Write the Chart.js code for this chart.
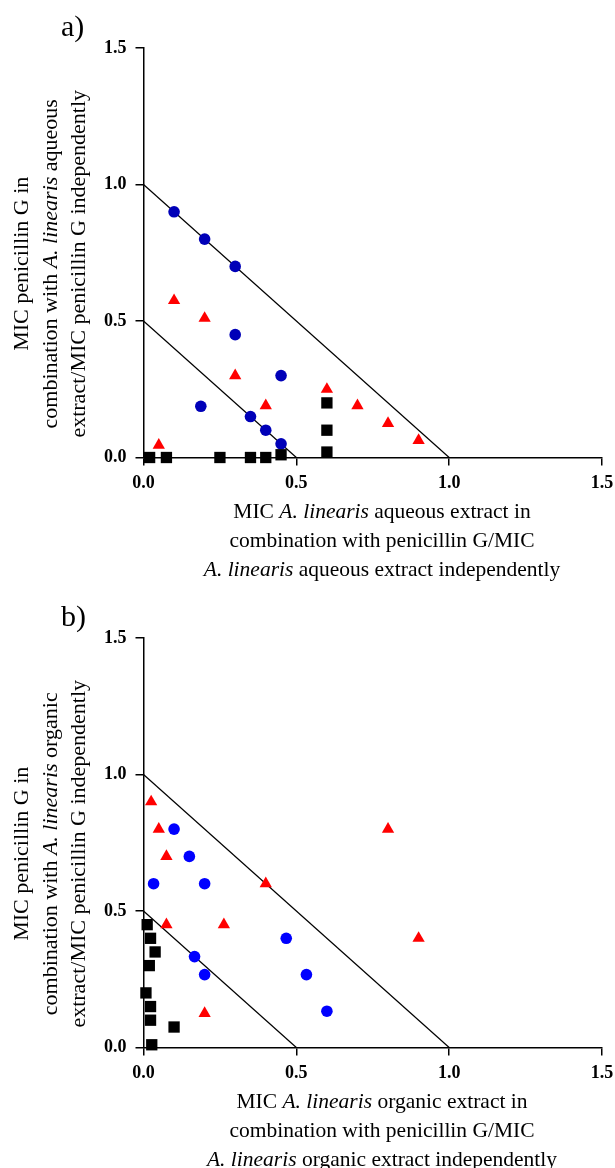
<!DOCTYPE html>
<html>
<head>
<meta charset="utf-8">
<script src="https://cdn.jsdelivr.net/npm/chart.js@4"></script>
<style>
  body { margin: 0; background: #fff; width: 615px; height: 1168px; overflow: hidden;
         font-family: 'Liberation Serif', 'Times New Roman', serif; color: #000; }
  .panel { position: absolute; left: 0; width: 615px; height: 590px; }
  .panel canvas { position: absolute; left: 0; top: 0; }
  .lbl { position: absolute; left: 61px; top: 6px; font-size: 30px; line-height: 40px; }
  .xt { position: absolute; left: 157px; top: 497px; width: 450px; text-align: center;
        font-size: 21.5px; line-height: 29px; white-space: nowrap; }
  .yt { position: absolute; left: -160px; top: 221px; width: 420px; text-align: center;
        font-size: 22px; line-height: 28.5px; white-space: nowrap; transform: rotate(-90deg); }
</style>
</head>
<body>

<div class="panel" style="top:0">
  <canvas id="chartA" width="615" height="500"></canvas>
  <div class="lbl">a)</div>
  <div class="yt">MIC penicillin G in<br>combination with <i>A. linearis</i> aqueous<br>extract/MIC penicillin G independently</div>
  <div class="xt">MIC <i>A. linearis</i> aqueous extract in<br>combination with penicillin G/MIC<br><i>A. linearis</i> aqueous extract independently</div>
</div>

<div class="panel" style="top:590px">
  <canvas id="chartB" width="615" height="500"></canvas>
  <div class="lbl">b)</div>
  <div class="yt">MIC penicillin G in<br>combination with <i>A. linearis</i> organic<br>extract/MIC penicillin G independently</div>
  <div class="xt">MIC <i>A. linearis</i> organic extract in<br>combination with penicillin G/MIC<br><i>A. linearis</i> organic extract independently</div>
</div>

<script>
// axis ticks
const tickValues = [0, 0.5, 1.0, 1.5];

// reference lines (additivity = 1, synergy = 0.5)
const lineOneX = [0, 1];
const lineOneY = [1, 0];
const lineHalfX = [0, 0.5];
const lineHalfY = [0.5, 0];

// a) aqueous extract
const aCircleX = [0.1, 0.2, 0.3, 0.3, 0.45, 0.1875, 0.35, 0.4, 0.45];
const aCircleY = [0.9, 0.8, 0.7, 0.45, 0.3, 0.1875, 0.15, 0.1, 0.05];
const aTriangleX = [0.05, 0.1, 0.2, 0.3, 0.4, 0.6, 0.7, 0.8, 0.9];
const aTriangleY = [0.045, 0.575, 0.51, 0.3, 0.19, 0.25, 0.19, 0.125, 0.0625];
const aSquareX = [0.02, 0.075, 0.25, 0.35, 0.4, 0.45, 0.6, 0.6, 0.6];
const aSquareY = [0, 0, 0, 0, 0, 0.01, 0.2, 0.1, 0.02];

// b) organic extract
const bCircleX = [0.1, 0.15, 0.033, 0.2, 0.467, 0.167, 0.2, 0.533, 0.6];
const bCircleY = [0.8, 0.7, 0.6, 0.6, 0.4, 0.333, 0.267, 0.267, 0.133];
const bTriangleX = [0.025, 0.05, 0.075, 0.4, 0.8, 0.075, 0.263, 0.9, 0.2];
const bTriangleY = [0.9, 0.8, 0.7, 0.6, 0.8, 0.45, 0.45, 0.4, 0.125];
const bSquareX = [0.012, 0.023, 0.038, 0.019, 0.008, 0.023, 0.023, 0.1, 0.027];
const bSquareY = [0.45, 0.4, 0.35, 0.3, 0.2, 0.15, 0.1, 0.075, 0.01];

function pts(xs, ys) {
  return xs.map((x, i) => ({ x: x, y: ys[i] }));
}

const tickFont = { family: 'Liberation Serif', size: 18, weight: 'bold' };

function makeChart(id, circles, triangles, squares, blue) {
  new Chart(document.getElementById(id), {
    type: 'scatter',
    data: {
      datasets: [
        { data: squares, pointStyle: 'rect', pointRadius: 8, backgroundColor: '#000', borderWidth: 0, clip: false },
        { data: circles, pointStyle: 'circle', pointRadius: 5.8, backgroundColor: blue, borderWidth: 0, clip: false },
        { data: triangles, pointStyle: 'triangle', pointRadius: 7.1, backgroundColor: '#ff0000', borderWidth: 0, clip: false },
        { data: pts(lineOneX, lineOneY), showLine: true, borderColor: '#000', borderWidth: 1.2, pointRadius: 0 },
        { data: pts(lineHalfX, lineHalfY), showLine: true, borderColor: '#000', borderWidth: 1.2, pointRadius: 0 }
      ]
    },
    options: {
      responsive: false,
      animation: false,
      events: [],
      layout: { padding: { left: 83.5, top: 48, right: 13, bottom: 2.5 } },
      plugins: { legend: { display: false }, tooltip: { enabled: false } },
      scales: {
        x: {
          type: 'linear', min: 0, max: 1.5,
          afterBuildTicks: s => { s.ticks = tickValues.map(v => ({ value: v })); },
          afterFit: s => { s.height = 40; s.paddingLeft = 0; s.paddingRight = 0; },
          ticks: { callback: v => v.toFixed(1), color: '#000', font: tickFont, padding: 7, maxRotation: 0 },
          grid: { drawOnChartArea: false, tickLength: 8, color: '#000', lineWidth: 1.5 },
          border: { color: '#000', width: 1.5 }
        },
        y: {
          type: 'linear', min: 0, max: 1.5,
          afterBuildTicks: s => { s.ticks = tickValues.map(v => ({ value: v })); },
          afterFit: s => { s.width = 60; s.paddingTop = 0; s.paddingBottom = 0; },
          ticks: { callback: v => v.toFixed(1), color: '#000', font: tickFont, padding: 9 },
          grid: { drawOnChartArea: false, tickLength: 8, color: '#000', lineWidth: 1.5 },
          border: { color: '#000', width: 1.5 }
        }
      }
    }
  });
}

makeChart('chartA', pts(aCircleX, aCircleY), pts(aTriangleX, aTriangleY), pts(aSquareX, aSquareY), '#0000b8');
makeChart('chartB', pts(bCircleX, bCircleY), pts(bTriangleX, bTriangleY), pts(bSquareX, bSquareY), '#0000ff');
</script>
</body>
</html>
